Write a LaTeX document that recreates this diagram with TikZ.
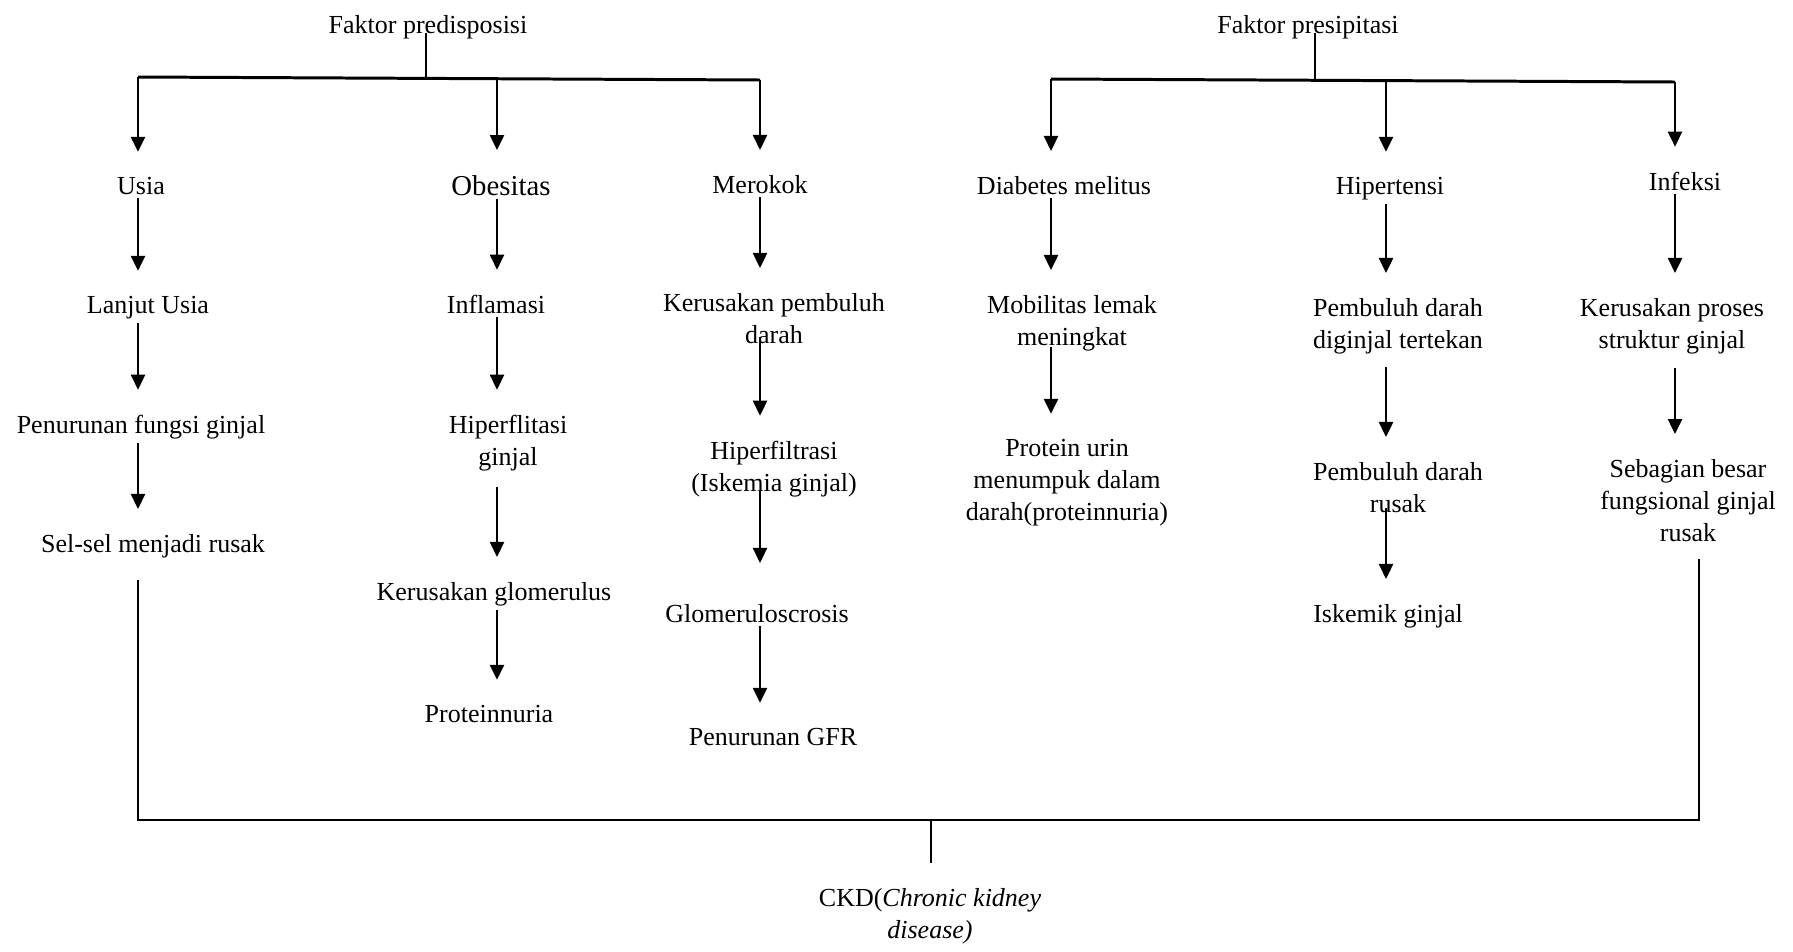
\documentclass[tikz,border=0pt]{standalone}
\usepackage{fontspec}
\setmainfont{Liberation Serif}
\usepackage{tikz}
\usetikzlibrary{arrows.meta,positioning}

\begin{document}
\begin{tikzpicture}[
  x=0.02cm,y=-0.02cm,
  font=\fontsize{14.8pt}{18.2pt}\selectfont,
  txt/.style={inner sep=0pt,outer sep=0pt,align=center,anchor=base},
  conn/.style={line width=1.4pt},
  bar/.style={line width=1.7pt},
  arr/.style={-{Triangle[length=0.3cm,width=0.28cm]},line width=1.4pt,shorten <=0.08cm,shorten >=0.5cm},
]
\useasboundingbox (0,0) rectangle (1793,951);

% Faktor predisposisi
\node[txt] (predis) at (428,33) {Faktor predisposisi};
\coordinate (ja) at (426,78.4);
\coordinate (ka) at (138,77);
\coordinate (kb) at (497,78.7);
\coordinate (kc) at (760,80);
\draw[conn] (predis.base -| ja) -- (ja);
\draw[bar] (ka) -- (kc);

% Usia
\node[txt] (usia) at (141,194) {Usia};
\node[txt] (lanjut) at (148,313) {Lanjut Usia};
\node[txt] (turun) at (141,433) {Penurunan fungsi ginjal};
\node[txt] (selsel) at (153,552) {Sel-sel menjadi rusak};

% Obesitas
\node[txt,font=\fontsize{16.4pt}{20pt}\selectfont] (obes) at (501,195) {Obesitas};
\node[txt] (inflam) at (496,313) {Inflamasi};
\node[txt] (hiperfl) at (508,465) {Hiperflitasi\\ginjal};
\node[txt] (glom) at (494,600) {Kerusakan glomerulus};
\node[txt] (protein) at (489,722) {Proteinnuria};

% Merokok
\node[txt] (rokok) at (760,193) {Merokok};
\node[txt] (pembuluh) at (774,343) {Kerusakan pembuluh\\darah};
\node[txt] (hiperfil) at (774,491) {Hiperfiltrasi\\(Iskemia ginjal)};
\node[txt] (sklero) at (757,622) {Glomeruloscrosis};
\node[txt] (gfr) at (773,745) {Penurunan GFR};

\draw[arr,shorten <=0pt] (ka) -- (usia.north -| ka);
\draw[arr] (usia.south -| ka) -- (lanjut.north -| ka);
\draw[arr] (lanjut.south -| ka) -- (turun.north -| ka);
\draw[arr] (turun.south -| ka) -- (selsel.north -| ka);

\draw[arr,shorten <=0pt] (kb) -- (obes.north -| kb);
\draw[arr] (obes.south -| kb) -- (inflam.north -| kb);
\draw[arr] (inflam.south -| kb) -- (hiperfl.north -| kb);
\draw[arr,shorten <=0.32cm] (hiperfl.south -| kb) -- (glom.north -| kb);
\draw[arr] (glom.south -| kb) -- (protein.north -| kb);

\draw[arr,shorten <=0pt] (kc) -- (rokok.north -| kc);
\draw[arr] (rokok.south -| kc) -- (pembuluh.north -| kc);
\draw[arr,shorten <=-0.12cm] (pembuluh.south -| kc) -- (hiperfil.north -| kc);
\draw[arr,shorten <=-0.12cm,shorten >=0.82cm] (hiperfil.south -| kc) -- (sklero.north -| kc);
\draw[arr] (sklero.south -| kc) -- (gfr.north -| kc);

% Faktor presipitasi
\node[txt] (presip) at (1308,33) {Faktor presipitasi};
\coordinate (jb) at (1315,80.2);
\coordinate (kd) at (1051,79);
\coordinate (ke) at (1386,80.6);
\coordinate (kf) at (1675,82);
\draw[conn] (presip.base -| jb) -- (jb);
\draw[bar] (kd) -- (kf);

% Diabetes melitus
\node[txt] (dm) at (1064,194) {Diabetes melitus};
\node[txt] (lemak) at (1072,345) {Mobilitas lemak\\meningkat};
\node[txt] (urin) at (1067,520) {Protein urin\\menumpuk dalam\\darah(proteinnuria)};

% Hipertensi
\node[txt] (ht) at (1390,194) {Hipertensi};
\node[txt] (tekan) at (1398,348) {Pembuluh darah\\diginjal tertekan};
\node[txt] (rusak) at (1398,512) {Pembuluh darah\\rusak};
\node[txt] (iskemik) at (1388,622) {Iskemik ginjal};

% Infeksi
\node[txt] (infeksi) at (1685,190) {Infeksi};
\node[txt] (proses) at (1672,348) {Kerusakan proses\\struktur ginjal};
\node[txt] (fungsi) at (1688,541) {Sebagian besar\\fungsional ginjal\\rusak};

\draw[arr,shorten <=0pt] (kd) -- (dm.north -| kd);
\draw[arr] (dm.south -| kd) -- (lemak.north -| kd);
\draw[arr,shorten <=-0.08cm] (lemak.south -| kd) -- (urin.north -| kd);

\draw[arr,shorten <=0pt] (ke) -- (ht.north -| ke);
\draw[arr] (ht.south -| ke) -- (tekan.north -| ke);
\draw[arr,shorten <=0.26cm] (tekan.south -| ke) -- (rusak.north -| ke);
\draw[arr,shorten <=-0.08cm] (rusak.south -| ke) -- (iskemik.north -| ke);

\draw[arr,shorten <=0pt] (kf) -- (infeksi.north -| kf);
\draw[arr] (infeksi.south -| kf) -- (proses.north -| kf);
\draw[arr,shorten <=0.28cm] (proses.south -| kf) -- (fungsi.north -| kf);

% CKD
\node[txt] (ckd) at (930,938) {CKD(\textit{Chronic kidney}\\\textit{disease)}};
\coordinate (cl) at (138,820);
\coordinate (cr) at (1699,820);
\coordinate (cm) at (931,820);
\draw[conn,shorten <=0.44cm,shorten >=0.36cm] (selsel.south -| cl) -- (cl) -- (cr) -- (fungsi.south -| cr);
\draw[conn,shorten >=0.5cm] (cm) -- (ckd.north -| cm);

\end{tikzpicture}
\end{document}
